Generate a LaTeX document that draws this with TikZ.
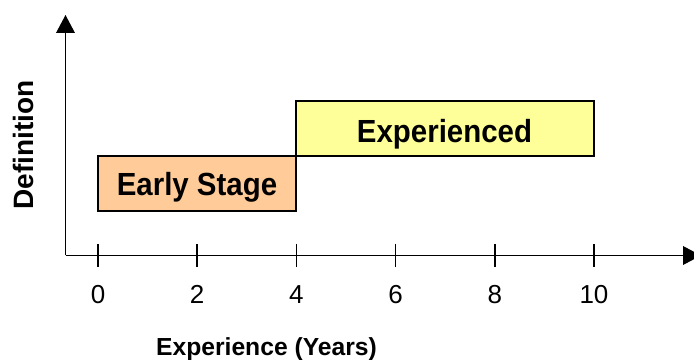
\documentclass[tikz,border=0pt]{standalone}
\usepackage{fontspec}
\setmainfont{Liberation Sans}
\newfontfamily\stagefont[FakeStretch=0.92]{Liberation Sans}
\usetikzlibrary{arrows.meta}
\definecolor{earlyfill}{RGB}{255,204,153}
\definecolor{expfill}{RGB}{255,255,153}
\tikzset{
  axisline/.style={line width=1.1pt,-{Triangle[length=13.5pt,width=14pt]}},
  stagebox/.style={draw,line width=0.8pt},
  stagetext/.style={anchor=base,inner sep=0pt,font=\stagefont\bfseries\fontsize{24}{28}\selectfont},
  ticklabel/.style={anchor=base,inner sep=0pt,font=\fontsize{19.5}{23}\selectfont}
}
\begin{document}
\begin{tikzpicture}[x=0.75pt,y=0.75pt,yscale=-1,xscale=1]
\useasboundingbox (0,0) rectangle (694,360);
%Shape: Rectangle [early stage]
\draw [stagebox,fill=earlyfill] (98,156) rectangle (296,211);
%Shape: Rectangle [experienced]
\draw [stagebox,fill=expfill] (296,101) rectangle (594,156);
% Axes
\coordinate (origin) at (65.5,255.5);
\coordinate (ytip) at (65.5,15);
\coordinate (xtip) at (701,255.5);
\draw [axisline] (origin) -- (ytip);
\draw [axisline] (origin) -- (xtip);
% Ticks and tick labels
\foreach \yr [count=\i from 0] in {0,2,4,6,8,10} {
  \draw [line width=1.1pt] (98+99.2*\i,244) -- (98+99.2*\i,267);
  \node [ticklabel] (tick\yr) at (98+99.2*\i,303) {\yr};
}
% Text Node
\node [stagetext] (early) at (197,196) {Early Stage};
% Text Node
\node [stagetext] (experienced) at (444.5,143) {Experienced};
% Text Node
\node [anchor=base,inner sep=0pt,font=\bfseries\fontsize{18.5}{22}\selectfont] (xtitle) at (266.5,355) {Experience (Years)};
% Text Node
\node [anchor=base,inner sep=0pt,rotate=90,font=\bfseries\fontsize{21}{25}\selectfont] (ytitle) at (33,145) {Definition};
\end{tikzpicture}
\end{document}
